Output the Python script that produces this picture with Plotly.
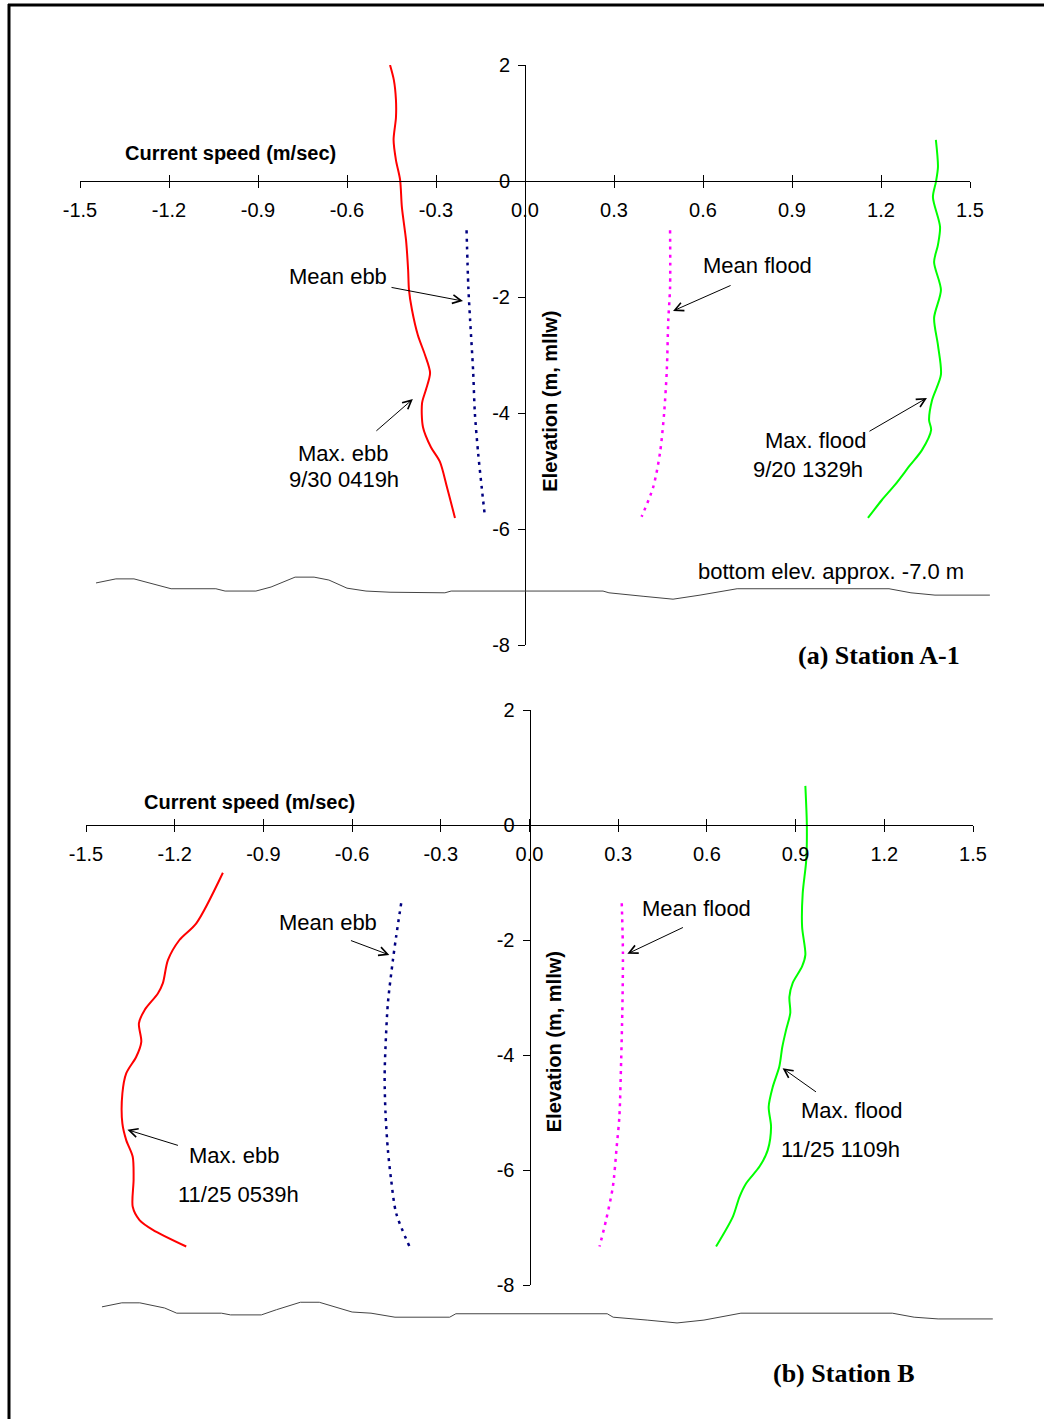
import plotly.graph_objects as go

W, H = 1044, 1419
SANS = "Liberation Sans, Arial, sans-serif"
SERIF = "Liberation Serif, Times New Roman, serif"

# ---------------- axis ticks ----------------
speed_ticks = [-1.5, -1.2, -0.9, -0.6, -0.3, 0.0, 0.3, 0.6, 0.9, 1.2, 1.5]
speed_labels = ["-1.5", "-1.2", "-0.9", "-0.6", "-0.3", "0.0", "0.3", "0.6", "0.9", "1.2", "1.5"]
elev_ticks = [-8, -6, -4, -2, 0, 2]
elev_labels = ["-8", "-6", "-4", "-2", "0", "2"]

# ---------------- (a) Station A-1 ----------------
a_max_ebb_speed = [-0.455, -0.442, -0.435, -0.435, -0.443, -0.435, -0.421, -0.415, -0.401, -0.394,
                   -0.391, -0.381, -0.361, -0.337, -0.320, -0.334, -0.347, -0.344, -0.317, -0.287,
                   -0.263, -0.236]
a_max_ebb_elev = [2.00, 1.74, 1.40, 1.09, 0.71, 0.36, 0.02, -0.45, -1.02, -1.53,
                  -1.88, -2.22, -2.66, -3.00, -3.31, -3.60, -3.83, -4.24, -4.59, -4.84,
                  -5.28, -5.81]

a_mean_ebb_speed = [-0.197, -0.191, -0.185, -0.175, -0.169, -0.158, -0.146, -0.135]
a_mean_ebb_elev = [-0.85, -1.83, -2.40, -3.26, -4.00, -4.69, -5.28, -5.79]

a_mean_flood_speed = [0.489, 0.489, 0.483, 0.478, 0.469, 0.455, 0.432, 0.393]
a_mean_flood_elev = [-0.85, -1.83, -2.40, -3.26, -4.00, -4.69, -5.28, -5.79]

a_max_flood_speed = [1.385, 1.392, 1.385, 1.375, 1.399, 1.392, 1.379, 1.402, 1.379, 1.392,
                     1.402, 1.372, 1.362, 1.369, 1.338, 1.298, 1.247, 1.203, 1.156]
a_max_flood_elev = [0.71, 0.24, -0.02, -0.28, -0.79, -1.10, -1.40, -1.88, -2.36, -2.83,
                    -3.34, -3.78, -4.12, -4.29, -4.64, -4.90, -5.24, -5.50, -5.81]

# ---------------- (b) Station B ----------------
b_max_ebb_speed = [-1.037, -1.127, -1.184, -1.223, -1.240, -1.257, -1.302, -1.321, -1.313, -1.330,
                   -1.364, -1.377, -1.377, -1.364, -1.342, -1.339, -1.342, -1.319, -1.274, -1.161]
b_max_ebb_elev = [-0.83, -1.71, -2.00, -2.35, -2.75, -2.93, -3.22, -3.45, -3.77, -4.03,
                  -4.32, -4.67, -5.19, -5.48, -5.77, -6.17, -6.64, -6.87, -7.04, -7.33]

b_mean_ebb_speed = [-0.434, -0.451, -0.462, -0.479, -0.487, -0.490, -0.487, -0.479, -0.468, -0.451, -0.406]
b_mean_ebb_elev = [-1.36, -1.94, -2.35, -3.10, -3.86, -4.38, -5.01, -5.65, -6.17, -6.75, -7.33]

b_mean_flood_speed = [0.312, 0.316, 0.314, 0.310, 0.304, 0.295, 0.282, 0.259, 0.237]
b_mean_flood_elev = [-1.36, -2.23, -3.22, -4.09, -5.07, -5.59, -6.29, -6.87, -7.33]

b_max_flood_speed = [0.933, 0.938, 0.936, 0.924, 0.922, 0.933, 0.922, 0.890, 0.879, 0.882,
                     0.868, 0.855, 0.845, 0.823, 0.809, 0.817, 0.806, 0.778, 0.733, 0.710,
                     0.688, 0.631]
b_max_flood_elev = [0.68, 0.00, -0.61, -1.19, -1.77, -2.26, -2.46, -2.75, -2.99, -3.27,
                    -3.56, -3.86, -4.20, -4.55, -4.90, -5.25, -5.65, -5.94, -6.23, -6.47,
                    -6.81, -7.33]

# ---------------- bottom profiles (horizontal position on speed scale) ----------------
seabed_x = [-1.446, -1.379, -1.318, -1.234, -1.193, -1.042, -1.011, -0.907, -0.856, -0.775,
            -0.711, -0.661, -0.600, -0.536, -0.455, -0.270, -0.249, 0.263, 0.283, 0.398,
            0.499, 0.590, 0.715, 1.227, 1.301, 1.382, 1.567]
a_seabed_elev = [-6.93, -6.86, -6.86, -6.97, -7.03, -7.03, -7.07, -7.07, -7.00, -6.83,
                 -6.83, -6.88, -7.02, -7.07, -7.09, -7.10, -7.07, -7.07, -7.10, -7.16,
                 -7.21, -7.14, -7.03, -7.03, -7.10, -7.14, -7.14]
b_seabed_elev = [-8.38, -8.31, -8.31, -8.40, -8.49, -8.49, -8.52, -8.52, -8.43, -8.30,
                 -8.30, -8.38, -8.47, -8.49, -8.56, -8.56, -8.50, -8.50, -8.56, -8.61,
                 -8.66, -8.61, -8.49, -8.49, -8.56, -8.59, -8.59]

X_RANGE = [-1.5, 1.5]
Y_RANGE = [-8, 2]

# Pixel frames of the axis lines for each panel
FRAMES = {
    1: dict(left=80, right=970, top=65, bottom=645),
    2: dict(left=86, right=973, top=710, bottom=1285),
}


def fx(p):
    return p / W


def fy(p):
    return 1 - p / H


fig = go.Figure()
layout = dict(
    width=W, height=H, margin=dict(l=0, r=0, t=0, b=0, pad=0, autoexpand=False),
    paper_bgcolor="white", plot_bgcolor="rgba(0,0,0,0)",
    showlegend=False, font=dict(family=SANS, color="black"),
)

tick_font = dict(family=SANS, size=20, color="black")

for n, fr in FRAMES.items():
    xdom = [fx(fr["left"]), fx(fr["right"])]
    ydom = [fy(fr["bottom"]), fy(fr["top"])]
    # where the axes cross (data zero)
    ycross = ydom[0] + (0 - Y_RANGE[0]) / (Y_RANGE[1] - Y_RANGE[0]) * (ydom[1] - ydom[0])
    xcross = xdom[0] + (0 - X_RANGE[0]) / (X_RANGE[1] - X_RANGE[0]) * (xdom[1] - xdom[0])

    main = "" if n == 1 else str(n)
    layout[f"xaxis{main}"] = dict(
        domain=xdom, range=X_RANGE, anchor="free", position=ycross, automargin=False,
        showline=True, linecolor="black", linewidth=1,
        ticks="outside", ticklen=6, tickwidth=1, tickcolor="black", ticklabelstandoff=5,
        tickmode="array", tickvals=speed_ticks, ticktext=speed_labels,
        tickfont=tick_font, showgrid=False, zeroline=False, fixedrange=True,
    )
    layout[f"yaxis{main}"] = dict(
        domain=ydom, range=Y_RANGE, anchor="free", position=xcross, automargin=False,
        showline=True, linecolor="black", linewidth=1,
        ticks="outside", ticklen=7, tickwidth=1, tickcolor="black", ticklabelstandoff=4,
        tickmode="array", tickvals=elev_ticks, ticktext=elev_labels,
        tickfont=tick_font, showgrid=False, zeroline=False, fixedrange=True,
    )
    # upper half of the crossing tick marks on the speed axis
    ov = n + 4
    layout[f"xaxis{ov}"] = dict(
        overlaying=f"x{main}", range=X_RANGE, anchor="free", position=ycross, automargin=False,
        showline=False, ticks="inside", ticklen=6, tickwidth=1, tickcolor="black",
        tickmode="array", tickvals=speed_ticks, showticklabels=False,
        showgrid=False, zeroline=False, fixedrange=True,
    )
    fig.add_trace(go.Scatter(x=[], y=[], xaxis=f"x{ov}", yaxis=f"y{main}",
                             hoverinfo="skip", showlegend=False))

    # full-page axes sharing the panel's scale, for the bottom profile
    sx = (fr["right"] - fr["left"]) / (X_RANGE[1] - X_RANGE[0])
    sy = (fr["bottom"] - fr["top"]) / (Y_RANGE[1] - Y_RANGE[0])
    sb = n + 2
    layout[f"xaxis{sb}"] = dict(
        domain=[0, 1], anchor=f"y{sb}", visible=False, fixedrange=True, automargin=False,
        range=[X_RANGE[0] - fr["left"] / sx, X_RANGE[1] + (W - fr["right"]) / sx],
    )
    layout[f"yaxis{sb}"] = dict(
        domain=[0, 1], anchor=f"x{sb}", visible=False, fixedrange=True, automargin=False,
        range=[Y_RANGE[0] - (H - fr["bottom"]) / sy, Y_RANGE[1] + fr["top"] / sy],
    )

# ---------------- traces ----------------
def profile(x, y, n, color, dash="solid", width=2.0):
    main = "" if n == 1 else str(n)
    fig.add_trace(go.Scatter(
        x=x, y=y, mode="lines", xaxis=f"x{main}", yaxis=f"y{main}",
        line=dict(color=color, width=width, dash=dash, shape="spline", smoothing=0.8),
        hoverinfo="skip",
    ))


for n, seabed in ((1, a_seabed_elev), (2, b_seabed_elev)):
    fig.add_trace(go.Scatter(
        x=seabed_x, y=seabed, mode="lines", xaxis=f"x{n + 2}", yaxis=f"y{n + 2}",
        line=dict(color="#444444", width=1), hoverinfo="skip",
    ))

profile(a_max_ebb_speed, a_max_ebb_elev, 1, "#ff0000")
profile(a_mean_ebb_speed, a_mean_ebb_elev, 1, "#000080", dash="3px,5px", width=2.5)
profile(a_mean_flood_speed, a_mean_flood_elev, 1, "#ff00ff", dash="3px,5px", width=2.5)
profile(a_max_flood_speed, a_max_flood_elev, 1, "#00ff00")

profile(b_max_ebb_speed, b_max_ebb_elev, 2, "#ff0000")
profile(b_mean_ebb_speed, b_mean_ebb_elev, 2, "#000080", dash="3px,5px", width=2.5)
profile(b_mean_flood_speed, b_mean_flood_elev, 2, "#ff00ff", dash="3px,5px", width=2.5)
profile(b_max_flood_speed, b_max_flood_elev, 2, "#00ff00")

# ---------------- labels ----------------
annotations = []


def label(n, text, x, y, size=22, family=SANS, xanchor="center", angle=0):
    main = "" if n == 1 else str(n)
    annotations.append(dict(
        text=text, x=x, y=y, xref=f"x{main}", yref=f"y{main}", showarrow=False,
        xanchor=xanchor, yanchor="middle", textangle=angle,
        font=dict(family=family, size=size, color="black"),
    ))


def caption(text, px_x, px_y):
    annotations.append(dict(
        text=f"<b>{text}</b>", x=fx(px_x), y=fy(px_y), xref="paper", yref="paper",
        showarrow=False, xanchor="center", yanchor="middle",
        font=dict(family=SERIF, size=26, color="black"),
    ))


def arrow(n, tail, head):
    main = "" if n == 1 else str(n)
    annotations.append(dict(
        text="", x=head[0], y=head[1], ax=tail[0], ay=tail[1],
        xref=f"x{main}", yref=f"y{main}", axref=f"x{main}", ayref=f"y{main}",
        showarrow=True, arrowhead=5, arrowsize=1.7, arrowwidth=1,
        arrowcolor="black", standoff=0, startstandoff=0,
    ))


# (a)
label(1, "<b>Current speed (m/sec)</b>", -0.994, 0.48, size=20)
label(1, "<b>Elevation (m, mllw)</b>", 0.084, -3.79, size=20, angle=-90)
label(1, "Mean ebb", -0.630, -1.64)
label(1, "Max. ebb", -0.613, -4.69)
label(1, "9/30 0419h", -0.610, -5.14)
label(1, "Mean flood", 0.785, -1.45)
label(1, "Max. flood", 0.981, -4.48)
label(1, "9/20 1329h", 0.954, -4.98)
label(1, "bottom elev. approx. -7.0 m", 1.487, -6.74, xanchor="right")
caption("(a) Station A-1", 879, 655)
arrow(1, (-0.455, -1.83), (-0.209, -2.07))
arrow(1, (-0.506, -4.33), (-0.378, -3.76))
arrow(1, (0.698, -1.79), (0.499, -2.24))
arrow(1, (1.156, -4.33), (1.355, -3.74))

# (b)
label(2, "<b>Current speed (m/sec)</b>", -0.947, 0.40, size=20)
label(2, "<b>Elevation (m, mllw)</b>", 0.081, -3.77, size=20, angle=-90)
label(2, "Mean ebb", -0.680, -1.70)
label(2, "Max. ebb", -0.998, -5.74)
label(2, "11/25 0539h", -0.984, -6.43)
label(2, "Mean flood", 0.565, -1.46)
label(2, "Max. flood", 1.092, -4.97)
label(2, "11/25 1109h", 1.052, -5.65)
label(2, "bottom elev. approx. -8.5 m", 1.566, -7.93, xanchor="right")
caption("(b) Station B", 844, 1373)
arrow(2, (-0.609, -2.00), (-0.474, -2.26))
arrow(2, (-1.184, -5.58), (-1.360, -5.30))
arrow(2, (0.524, -1.77), (0.331, -2.24))
arrow(2, (0.974, -4.66), (0.856, -4.23))

layout["annotations"] = annotations

# frame edges along the top and left of the page
layout["shapes"] = [
    dict(type="line", xref="paper", yref="paper", x0=fx(8), x1=1, y0=fy(5), y1=fy(5),
         line=dict(color="black", width=3)),
    dict(type="line", xref="paper", yref="paper", x0=fx(9), x1=fx(9), y0=fy(4), y1=0,
         line=dict(color="black", width=3)),
]

fig.update_layout(**layout)
fig.write_html("out.html")
